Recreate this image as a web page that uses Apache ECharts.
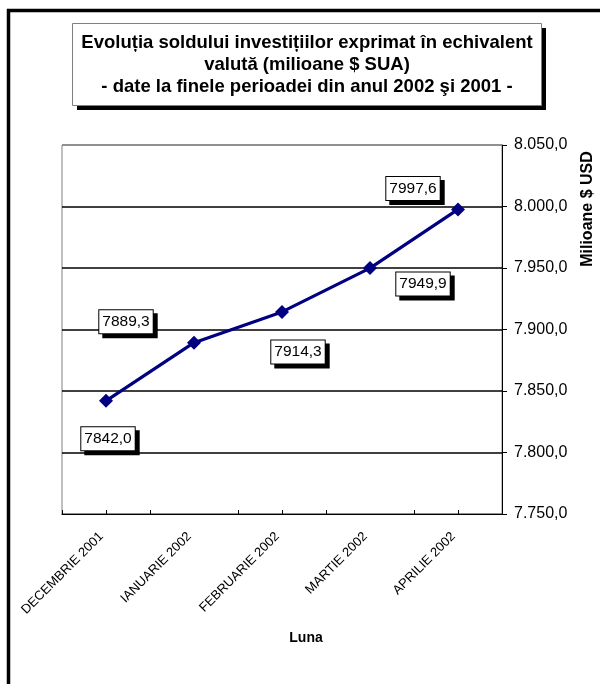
<!DOCTYPE html>
<html>
<head>
<meta charset="utf-8">
<script src="https://cdn.jsdelivr.net/npm/echarts@6/dist/echarts.min.js"></script>
<style>
html,body{margin:0;padding:0;background:#fff;}
#c{width:600px;height:684px;}
</style>
</head>
<body>
<div id="c"></div>
<script>
const categories = ['DECEMBRIE 2001', 'IANUARIE 2002', 'FEBRUARIE 2002', 'MARTIE 2002', 'APRILIE 2002'];
const values = [7842.0, 7889.3, 7914.3, 7949.9, 7997.6];
const yTicks = { min: 7750, max: 8050, interval: 50 };
const titleLines = ['Evoluția soldului investițiilor exprimat în echivalent', 'valută (milioane $ SUA)', '- date la finele perioadei din anul 2002 şi 2001 -'];
const yName = 'Milioane $ USD';
const xName = 'Luna';
// label offsets (style: where each value box sits relative to its point)
const labelOffsets = [[2, 38], [-68, -21], [16, 40], [53, 16], [-45, -21]];

const FONT = 'Arial, "Liberation Sans", sans-serif';
const fmtNum = (v) => {
  const s = v.toFixed(1).split('.');
  const int = s[0].replace(/\B(?=(\d{3})+(?!\d))/g, '.');
  return int + ',' + s[1];
};

const chart = echarts.init(document.getElementById('c'), null, { renderer: 'canvas' });
const gridLeft = 62, gridRight = 98, gridTop = 145, gridBottom = 170;

chart.setOption({
  animation: false,
  backgroundColor: '#fff',
  grid: {
    left: gridLeft, right: gridRight, top: gridTop, bottom: gridBottom,
    show: true, borderColor: '#808080', borderWidth: 1, backgroundColor: '#fff'
  },
  xAxis: [{
    type: 'category',
    data: categories,
    boundaryGap: true,
    position: 'bottom',
    axisLine: { show: true, lineStyle: { color: '#000', width: 1 } },
    axisTick: { show: true, inside: true, length: 4, alignWithLabel: false, lineStyle: { color: '#000' } },
    axisLabel: { rotate: 45, margin: 25, verticalAlign: 'bottom', fontFamily: FONT, fontSize: 13, color: '#000', interval: 0 },
    splitLine: { show: false }
  }, {
    type: 'category',
    data: categories,
    boundaryGap: true,
    position: 'bottom',
    offset: 0,
    axisLine: { show: false },
    axisTick: { show: true, inside: true, length: 4, alignWithLabel: true, lineStyle: { color: '#000' } },
    axisLabel: { show: false },
    splitLine: { show: false }
  }],
  yAxis: {
    type: 'value',
    position: 'right',
    min: yTicks.min, max: yTicks.max, interval: yTicks.interval,
    axisLine: { show: true, lineStyle: { color: '#000', width: 1 } },
    axisTick: { show: true, inside: false, length: 5, lineStyle: { color: '#000' } },
    axisLabel: { formatter: (v) => fmtNum(v), fontFamily: FONT, fontSize: 16, color: '#000', margin: 12 },
    splitLine: { show: true, lineStyle: { color: ['#808080', '#000', '#000', '#000', '#000', '#000', '#808080'], width: 1.6 } }
  },
  series: [{
    type: 'line',
    xAxisIndex: 0,
    data: values.map((v, i) => ({
      value: v,
      label: { offset: labelOffsets[i] }
    })),
    lineStyle: { color: '#000080', width: 3.2 },
    itemStyle: { color: '#000080' },
    symbol: 'diamond',
    symbolSize: [14, 14],
    label: {
      show: true,
      position: 'inside',
      formatter: (p) => p.value.toFixed(1).replace('.', ','),
      fontFamily: FONT, fontSize: 15.5, color: '#000',
      backgroundColor: '#fff', borderColor: '#000', borderWidth: 1,
      padding: [4, 3, 3, 3],
      shadowColor: '#000', shadowOffsetX: 4, shadowOffsetY: 4, shadowBlur: 0
    },
    z: 5
  }],
  graphic: [
    { type: 'line', shape: { x1: 8.5, y1: 9, x2: 8.5, y2: 684 }, style: { stroke: '#000', lineWidth: 3.5 }, silent: true },
    { type: 'line', shape: { x1: 7, y1: 10.5, x2: 600, y2: 10.5 }, style: { stroke: '#000', lineWidth: 3.5 }, silent: true },
    { type: 'rect', shape: { x: 77, y: 28, width: 469, height: 82 }, style: { fill: '#000' }, silent: true },
    { type: 'rect', shape: { x: 72.5, y: 23.5, width: 469, height: 82 }, style: { fill: '#fff', stroke: '#808080', lineWidth: 1 }, silent: true },
    { type: 'text', x: 307, y: 65, style: { text: titleLines.join('\n'), font: 'bold 18.5px ' + FONT, fill: '#000', textAlign: 'center', textVerticalAlign: 'middle', lineHeight: 21.7 }, silent: true },
    { type: 'text', x: 588, y: 209, rotation: Math.PI / 2, style: { text: yName, font: 'bold 16px ' + FONT, fill: '#000', textAlign: 'center', textVerticalAlign: 'middle' }, silent: true },
    { type: 'text', x: 306, y: 638, style: { text: xName, font: 'bold 14px ' + FONT, fill: '#000', textAlign: 'center', textVerticalAlign: 'middle' }, silent: true }
  ]
});
</script>
</body>
</html>
